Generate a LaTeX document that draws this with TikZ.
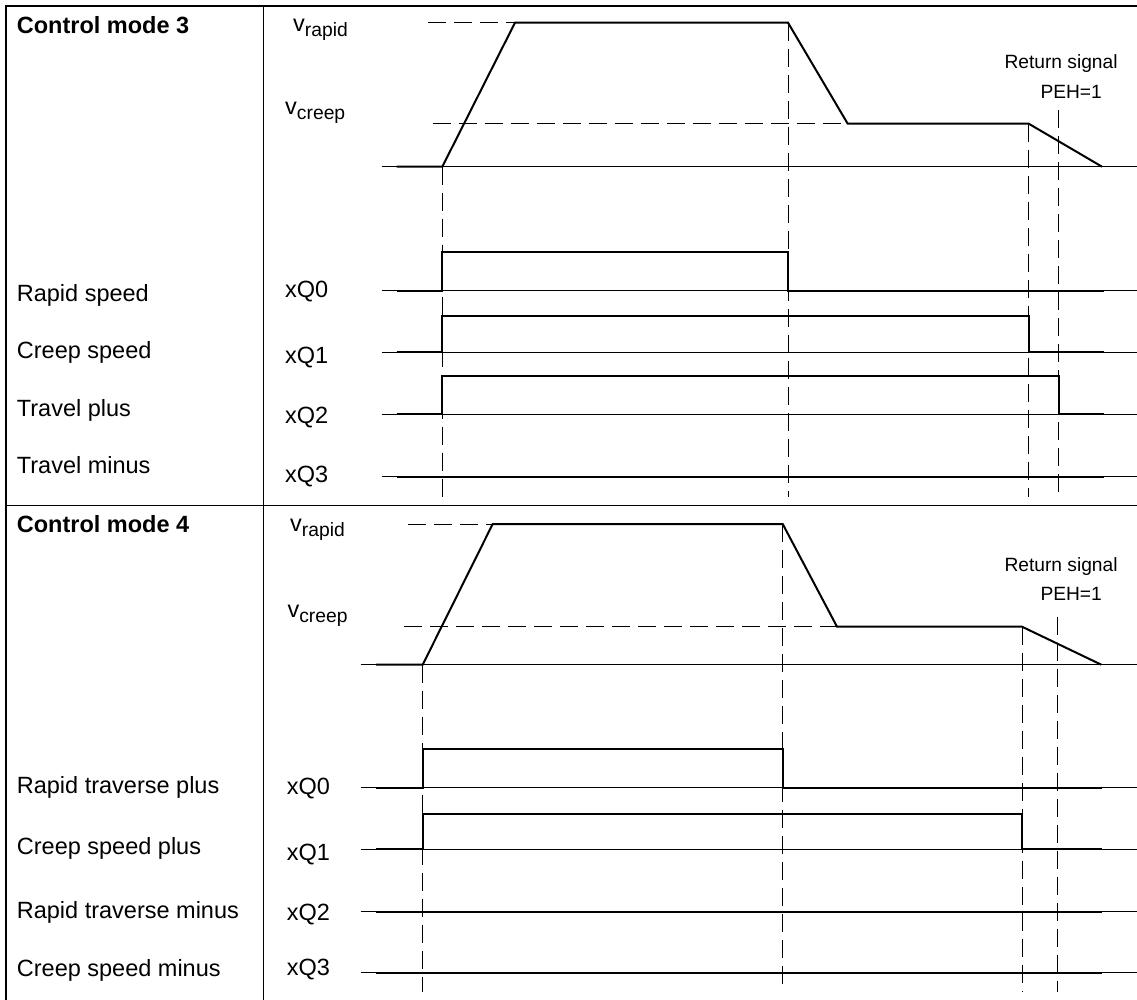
\documentclass[tikz,border=0pt]{standalone}
\usepackage{fontspec}
\setmainfont{Liberation Sans}
\newcommand\vsub[1]{v{\fontsize{19.3}{23}\selectfont\raisebox{-5pt}{#1}}}
\begin{document}
\begin{tikzpicture}[x=1pt,y=-1pt,
  frameline/.style={line width=1.3pt},
  baseline/.style={line width=0.9pt},
  sig/.style={line width=2pt, line join=miter},
  guide/.style={line width=0.9pt, dash pattern=on 18pt off 8pt},
  lbl/.style={anchor=base west, inner sep=0pt, font=\fontsize{23.5}{28}\selectfont},
  small/.style={anchor=base west, inner sep=0pt, font=\fontsize{19.2}{23}\selectfont}]
\useasboundingbox (0,0) rectangle (1137,1000);
% frame
\draw[frameline] (1137,6) -- (6,6) -- (6,1000);
\draw[frameline] (263.3,6) -- (263.3,1000);
\draw[frameline] (6,505.3) -- (1137,505.3);

% ---------------- Section 1 ----------------
\node[lbl, font=\bfseries\fontsize{23.5}{28}\selectfont] (cm3) at (16.7,33.3) {Control mode 3};
\node[lbl] (l1a) at (16.7,301.7) {Rapid speed};
\node[lbl] (l1b) at (16.7,358.3) {Creep speed};
\node[lbl] (l1c) at (16.7,416.7) {Travel plus};
\node[lbl] (l1d) at (16.7,473.3) {Travel minus};
\node[lbl] (vr1) at (293,31.7) {\vsub{rapid}};
\node[lbl] (vc1) at (285,115) {\vsub{creep}};
\node[lbl] (q10) at (285,297.7) {xQ0};
\node[lbl] (q11) at (285,363.3) {xQ1};
\node[lbl] (q12) at (285,423.3) {xQ2};
\node[lbl] (q13) at (285,482.7) {xQ3};
\node[small] (rs1) at (1004.3,69) {Return signal};
\node[small] (peh1) at (1040.3,98.3) {PEH=1};

% baselines
\foreach \y in {166.7,290.7,352.3,414.3,476.7}
  \draw[baseline] (381.7,\y) -- (1137,\y);
% guides
\draw[guide] (428,22.7) -- (515,22.7);
\draw[guide] (432.7,123.7) -- (847.7,123.7);
\draw[guide] (442.3,166.7) -- (442.3,496.7);
\draw[guide] (788,22.7) -- (788,496.7);
\draw[guide] (1028.7,123.7) -- (1028.7,496.7);
\draw[guide] (1058.7,110) -- (1058.7,496.7);
% speed profile
\draw[sig] (396.7,166.7) -- (442.3,166.7) -- (515,22.7) -- (788,22.7) -- (847.7,123.7) -- (1028.7,123.7) -- (1102,166.7);
% signals
\draw[sig] (396.7,290.7) -- (442.3,290.7) -- (442.3,252.3) -- (788,252.3) -- (788,290.7) -- (1103.7,290.7);
\draw[sig] (396.7,352.3) -- (442.3,352.3) -- (442.3,316) -- (1028.7,316) -- (1028.7,352.3) -- (1103.7,352.3);
\draw[sig] (396.7,414.3) -- (442.3,414.3) -- (442.3,376) -- (1058.7,376) -- (1058.7,414.3) -- (1103.7,414.3);
\draw[sig] (396.7,476.7) -- (1103.7,476.7);

% ---------------- Section 2 ----------------
\node[lbl, font=\bfseries\fontsize{23.5}{28}\selectfont] (cm4) at (16.7,532.3) {Control mode 4};
\node[lbl] (l2a) at (16.7,793.3) {Rapid traverse plus};
\node[lbl] (l2b) at (16.7,854) {Creep speed plus};
\node[lbl] (l2c) at (16.7,918.3) {Rapid traverse minus};
\node[lbl] (l2d) at (16.7,976) {Creep speed minus};
\node[lbl] (vr2) at (290,531.7) {\vsub{rapid}};
\node[lbl] (vc2) at (287.3,617.3) {\vsub{creep}};
\node[lbl] (q20) at (286.7,794) {xQ0};
\node[lbl] (q21) at (286.7,860) {xQ1};
\node[lbl] (q22) at (286.7,920.7) {xQ2};
\node[lbl] (q23) at (286.7,975) {xQ3};
\node[small] (rs2) at (1004.3,571.7) {Return signal};
\node[small] (peh2) at (1040.3,600) {PEH=1};

\foreach \y in {664.7,787.7,849.3,911.7,972.7}
  \draw[baseline] (360.7,\y) -- (1137,\y);
\draw[guide] (408.3,524) -- (492.7,524);
\draw[guide] (404.3,626.7) -- (837,626.7);
\draw[guide] (422.7,664.7) -- (422.7,991.7);
\draw[guide] (782.7,524) -- (782.7,991.7);
\draw[guide] (1022,626.7) -- (1022,991.7);
\draw[guide] (1057,616.7) -- (1057,991.7);
\draw[sig] (376,664.7) -- (422.7,664.7) -- (492.7,524) -- (782.7,524) -- (837,626.7) -- (1022,626.7) -- (1101.3,664.7);
\draw[sig] (376,787.7) -- (422.7,787.7) -- (422.7,749.3) -- (782.7,749.3) -- (782.7,787.7) -- (1102,787.7);
\draw[sig] (376,849.3) -- (422.7,849.3) -- (422.7,814.3) -- (1022,814.3) -- (1022,849.3) -- (1102,849.3);
\draw[sig] (376,911.7) -- (1102,911.7);
\draw[sig] (376,972.7) -- (1102,972.7);
\end{tikzpicture}
\end{document}
